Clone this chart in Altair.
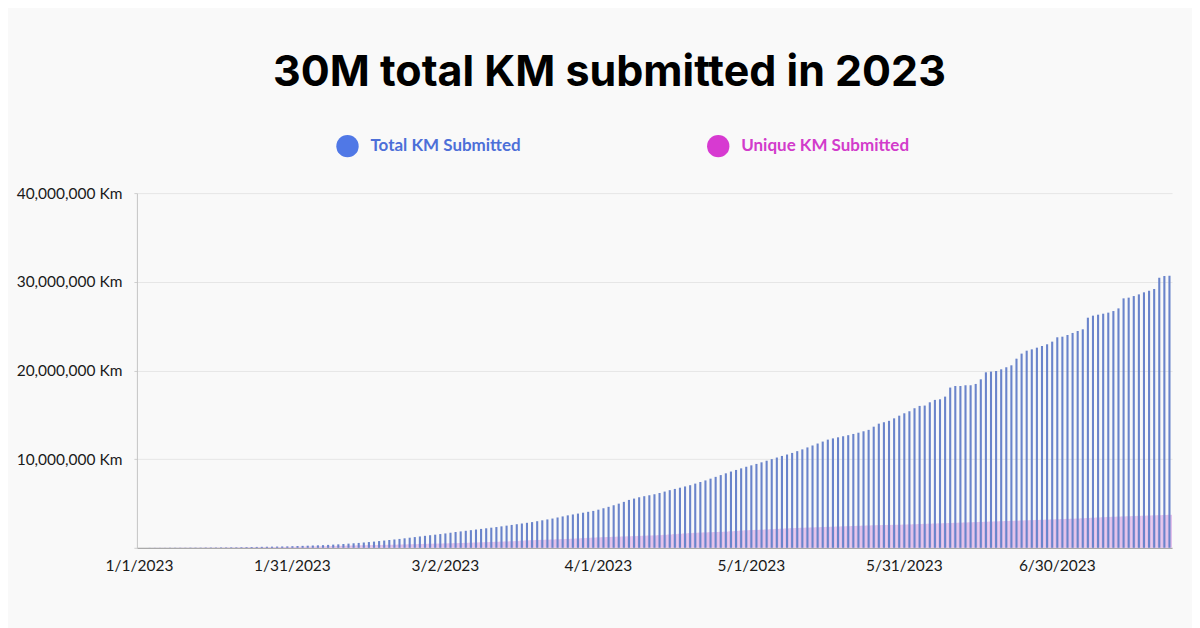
import altair as alt
import pandas as pd

title_text = "30M total KM submitted in 2023"
series_names = ["Total KM Submitted", "Unique KM Submitted"]
legend_circle_colors = ["#5078e6", "#d73ad1"]
legend_text_colors = ["#4d6fd8", "#d23ccb"]
bar_total_color = "#6a84cb"
bar_unique_color = "#e2c0ea"

# cumulative total KM submitted per day (millions of km)
total_m = [
    0.00, 0.00, 0.01, 0.01, 0.01, 0.01, 0.02, 0.02, 0.02, 0.02,
    0.03, 0.03, 0.03, 0.04, 0.04, 0.04, 0.05, 0.05, 0.06, 0.06,
    0.07, 0.08, 0.09, 0.10, 0.11, 0.12, 0.13, 0.14, 0.15, 0.16,
    0.18, 0.20, 0.22, 0.24, 0.26, 0.28, 0.30, 0.33, 0.36, 0.39,
    0.43, 0.47, 0.51, 0.55, 0.60, 0.65, 0.70, 0.76, 0.82, 0.88,
    0.94, 1.00, 1.07, 1.14, 1.21, 1.28, 1.35, 1.42, 1.48, 1.55,
    1.62, 1.70, 1.78, 1.85, 1.92, 1.99, 2.06, 2.13, 2.20, 2.27,
    2.34, 2.42, 2.50, 2.58, 2.66, 2.74, 2.82, 2.90, 3.00, 3.10,
    3.20, 3.30, 3.42, 3.54, 3.66, 3.76, 3.86, 3.96, 4.06, 4.16,
    4.30, 4.46, 4.62, 4.80, 4.98, 5.18, 5.40, 5.55, 5.70, 5.82,
    5.92, 6.04, 6.18, 6.34, 6.50, 6.64, 6.78, 6.92, 7.06, 7.24,
    7.42, 7.60, 7.80, 8.00, 8.20, 8.40, 8.60, 8.78, 8.96, 9.14,
    9.30, 9.46, 9.64, 9.82, 10.00, 10.18, 10.36, 10.52, 10.70, 10.90,
    11.10, 11.32, 11.54, 11.76, 11.98, 12.20, 12.34, 12.46, 12.58, 12.70,
    12.84, 12.98, 13.14, 13.30, 13.66, 14.00, 14.16, 14.32, 14.60, 14.90,
    15.17, 15.40, 15.74, 16.00, 16.04, 16.41, 16.68, 16.75, 17.05, 18.07,
    18.25, 18.25, 18.33, 18.33, 18.48, 19.00, 19.79, 19.87, 19.94, 20.13,
    20.36, 20.58, 21.33, 21.90, 22.23, 22.38, 22.57, 22.76, 22.95, 23.25,
    23.74, 23.81, 24.00, 24.23, 24.45, 24.64, 25.95, 26.18, 26.29, 26.40,
    26.52, 26.70, 27.00, 28.13, 28.21, 28.39, 28.58, 28.81, 29.00, 29.18,
    30.46, 30.65, 30.69,
]

# cumulative unique KM submitted per day (millions of km)
unique_m = [
    0.00, 0.00, 0.00, 0.01, 0.01, 0.01, 0.01, 0.01, 0.02, 0.02,
    0.02, 0.02, 0.02, 0.03, 0.03, 0.03, 0.03, 0.04, 0.04, 0.04,
    0.05, 0.05, 0.06, 0.06, 0.07, 0.07, 0.08, 0.08, 0.09, 0.10,
    0.11, 0.12, 0.13, 0.14, 0.15, 0.16, 0.17, 0.19, 0.20, 0.22,
    0.23, 0.25, 0.26, 0.28, 0.29, 0.30, 0.31, 0.32, 0.33, 0.34,
    0.35, 0.37, 0.38, 0.40, 0.41, 0.43, 0.44, 0.46, 0.47, 0.48,
    0.50, 0.51, 0.53, 0.54, 0.56, 0.58, 0.60, 0.62, 0.64, 0.66,
    0.68, 0.70, 0.72, 0.74, 0.76, 0.80, 0.84, 0.86, 0.88, 0.90,
    0.92, 0.94, 0.96, 0.98, 1.00, 1.03, 1.06, 1.09, 1.12, 1.15,
    1.18, 1.20, 1.22, 1.24, 1.26, 1.28, 1.30, 1.32, 1.34, 1.36,
    1.38, 1.40, 1.43, 1.46, 1.50, 1.54, 1.58, 1.62, 1.66, 1.69,
    1.72, 1.74, 1.76, 1.78, 1.80, 1.82, 1.86, 1.90, 1.94, 1.98,
    2.00, 2.02, 2.04, 2.07, 2.10, 2.13, 2.16, 2.19, 2.22, 2.24,
    2.26, 2.28, 2.30, 2.32, 2.34, 2.36, 2.38, 2.40, 2.42, 2.44,
    2.46, 2.48, 2.50, 2.52, 2.54, 2.56, 2.57, 2.58, 2.59, 2.60,
    2.62, 2.64, 2.66, 2.68, 2.70, 2.72, 2.74, 2.76, 2.78, 2.80,
    2.82, 2.84, 2.86, 2.88, 2.90, 2.92, 2.94, 2.96, 2.98, 3.00,
    3.02, 3.04, 3.06, 3.08, 3.10, 3.12, 3.14, 3.16, 3.18, 3.20,
    3.22, 3.24, 3.26, 3.28, 3.30, 3.33, 3.36, 3.39, 3.42, 3.45,
    3.48, 3.50, 3.52, 3.54, 3.56, 3.58, 3.60, 3.62, 3.64, 3.66,
    3.68, 3.70, 3.72,
]

x_tick_labels = ["1/1/2023", "1/31/2023", "3/2/2023", "4/1/2023",
                 "5/1/2023", "5/31/2023", "6/30/2023"]
y_tick_values = [0, 10000000, 20000000, 30000000, 40000000]

dates = pd.date_range("2023-01-01", periods=len(total_m))
day_labels = [f"{d.month}/{d.day}/{d.year}" for d in dates]

df = pd.DataFrame({
    "day": day_labels,
    "total": [v * 1e6 for v in total_m],
    "unique": [v * 1e6 for v in unique_m],
})

x_enc = alt.X(
    "day:O", sort=day_labels,
    scale=alt.Scale(paddingInner=0, paddingOuter=0),
    axis=alt.Axis(values=x_tick_labels, labelAngle=0, title=None, ticks=False,
                  domainColor="#9a9a9a", labelFont="Lato", labelFontSize=15.5,
                  labelColor="#1a1a1a", labelPadding=11, grid=False),
)
y_axis = alt.Axis(values=y_tick_values, title=None,
                  labelExpr="datum.value == 0 ? '' : format(datum.value, ',') + ' Km'",
                  labelFont="Lato", labelFontSize=15.5, labelColor="#1a1a1a",
                  labelPadding=12, tickSize=3, tickColor="#cfcfcf",
                  domainColor="#c4c4c4", gridColor="#e6e6e6")
y_scale = alt.Scale(domain=[0, 40000000])

base = alt.Chart(df)
unique_bars = base.mark_bar(color=bar_unique_color).encode(
    x=x_enc,
    y=alt.Y("unique:Q", scale=y_scale, axis=y_axis),
)
total_bars = base.mark_bar(color=bar_total_color, width=2.1).encode(
    x=x_enc,
    y=alt.Y("total:Q", scale=y_scale, axis=y_axis),
)
bars = alt.layer(unique_bars, total_bars)

leg_df = pd.DataFrame({
    "name": series_names,
    "circle": legend_circle_colors,
    "tcolor": legend_text_colors,
})
leg_x = alt.X("name:N", sort=series_names,
              scale=alt.Scale(type="point", padding=0.896, align=0.317),
              axis=None)
leg_circles = alt.Chart(leg_df).mark_circle(size=500, opacity=1).encode(
    x=leg_x, y=alt.value(-47),
    color=alt.Color("circle:N", scale=None),
)
leg_texts = alt.Chart(leg_df).mark_text(
    align="left", baseline="middle", dx=23, font="Lato",
    fontWeight="bold", fontSize=17,
).encode(
    x=leg_x, y=alt.value(-47), text="name:N",
    color=alt.Color("tcolor:N", scale=None),
)
legend = alt.layer(leg_circles, leg_texts)

chart = alt.layer(bars, legend).resolve_scale(
    x="independent"
).properties(
    width=1036, height=355,
    title=alt.TitleParams(title_text, font="Inter", fontSize=43,
                          fontWeight="bold", color="#000000",
                          anchor="middle", offset=40, dx=-45),
    padding={"left": 8, "top": 43, "right": 20, "bottom": 55},
    background="#f9f9f9",
).configure_view(stroke=None)

chart.save("out.html", embed_options={"renderer": "svg", "actions": False})
